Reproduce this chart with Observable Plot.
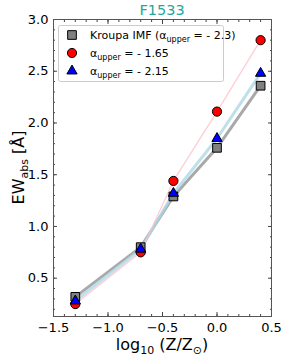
<!DOCTYPE html>
<html><head><meta charset="utf-8">
<script src="https://cdn.jsdelivr.net/npm/d3@7"></script>
<script src="https://cdn.jsdelivr.net/npm/@observablehq/plot@0.6"></script>
<style>body{margin:0;background:#fff}svg{font-family:"DejaVu Sans",sans-serif}</style>
</head><body><div id="chart"></div>
<script>
const logZ = [-1.3, -0.7, -0.4, 0.0, 0.4];
const kroupa = [0.32, 0.80, 1.29, 1.76, 2.36];
const a165 = [0.25, 0.75, 1.44, 2.11, 2.80];
const a215 = [0.28, 0.78, 1.32, 1.85, 2.48];
const xTicks = [-1.5, -1.0, -0.5, 0.0, 0.5];
const yTicks = [0.5, 1.0, 1.5, 2.0, 2.5, 3.0];

const series = [
  {name: "kroupa", vals: kroupa, fill: "#808080", line: "#a9a9a9", lw: 3, op: 1, symbol: "square", r: 4.9},
  {name: "a165", vals: a165, fill: "#ff0000", line: "#ffc0cb", lw: 1.3, op: 0.8, symbol: "circle", r: 4.6},
  {name: "a215", vals: a215, fill: "#0000ff", line: "#add8e6", lw: 3, op: 0.8, symbol: "triangle", r: 3.8}
];
const rows = s => logZ.map((x, i) => ({x, y: s.vals[i]}));
const xMinor = d3.range(-15, 6).map(d => d / 10);
const yMinor = d3.range(2, 31).map(d => d / 10);

const W = 287, H = 359;
const mL = 53, mR = 16, mT = 19, mB = 43;
const lineOrder = [series[0], series[2], series[1]];
const plot = Plot.plot({
  width: W, height: H,
  marginLeft: mL, marginRight: mR, marginTop: mT, marginBottom: mB,
  style: {fontFamily: "DejaVu Sans, sans-serif", fontSize: "13px", color: "#000", background: "#fff"},
  x: {domain: [-1.5, 0.5]},
  y: {domain: [0.13, 3.0]},
  marks: [
    ...lineOrder.map(s => Plot.line(rows(s), {x: "x", y: "y", stroke: s.line, strokeWidth: s.lw, strokeOpacity: s.op})),
    ...series.map(s => Plot.dot(rows(s), {x: "x", y: "y", symbol: () => s.symbol, fill: s.fill, stroke: "#000", strokeWidth: 1, r: s.r})),
    Plot.axisX(xTicks, {anchor: "bottom", tickSize: -4, tickPadding: 10, tickFormat: d => d.toFixed(1).replace("-", "\u2212"), label: null, stroke: "#444"}),
    Plot.axisX(xMinor, {anchor: "bottom", tickSize: -2, tickFormat: () => "", label: null, stroke: "#444"}),
    Plot.axisX(xTicks, {anchor: "top", tickSize: -4, tickFormat: () => "", label: null, stroke: "#444"}),
    Plot.axisX(xMinor, {anchor: "top", tickSize: -2, tickFormat: () => "", label: null, stroke: "#444"}),
    Plot.axisY(yTicks, {anchor: "left", tickSize: -4, tickPadding: 9, tickFormat: d => d.toFixed(1), label: null, stroke: "#444"}),
    Plot.axisY(yMinor, {anchor: "left", tickSize: -2, tickFormat: () => "", label: null, stroke: "#444"}),
    Plot.axisY(yTicks, {anchor: "right", tickSize: -4, tickFormat: () => "", label: null, stroke: "#444"}),
    Plot.axisY(yMinor, {anchor: "right", tickSize: -2, tickFormat: () => "", label: null, stroke: "#444"}),
    Plot.frame({stroke: "#555", strokeWidth: 1})
  ]
});
document.getElementById("chart").appendChild(plot);
const svg = d3.select(plot);
const cx = mL + (W - mL - mR) / 2;
// title
svg.append("text").attr("x", cx).attr("y", 15).attr("text-anchor", "middle")
  .attr("fill", "#26a69a").style("font-size", "14.5px").text("F1533");
// x label
const xl = svg.append("text").attr("x", cx).attr("y", 350).attr("text-anchor", "middle").style("font-size", "16px").attr("fill", "#000");
xl.append("tspan").text("log");
xl.append("tspan").attr("dy", 4).style("font-size", "11px").text("10");
xl.append("tspan").attr("dy", -4).text(" (Z/Z");
xl.append("tspan").attr("dy", 4).style("font-size", "11px").text("\u2299");
xl.append("tspan").attr("dy", -4).text(")");
// y label
const yl = svg.append("text").attr("transform", `translate(24,${mT + (H - mT - mB) / 2}) rotate(-90)`).attr("text-anchor", "middle").style("font-size", "16px").attr("fill", "#000");
yl.append("tspan").text("EW");
yl.append("tspan").attr("dy", 4).style("font-size", "11px").text("abs");
yl.append("tspan").attr("dy", -4).text(" [\u00c5]");
// legend
const lg = svg.append("g").attr("text-anchor", "start");
lg.append("rect").attr("x", 58.5).attr("y", 25.5).attr("width", 165).attr("height", 56).attr("rx", 2)
  .attr("fill", "#fff").attr("fill-opacity", 0.85).attr("stroke", "#ccc");
const labels = [
  ["Kroupa IMF (\u03b1", "upper", " = - 2.3)"],
  ["\u03b1", "upper", " = - 1.65"],
  ["\u03b1", "upper", " = - 2.15"]
];
const sym = {square: d3.symbolSquare, circle: d3.symbolCircle, triangle: d3.symbolTriangle};
series.forEach((s, i) => {
  const y = 35 + i * 18;
  lg.append("path").attr("transform", `translate(72,${y})`)
    .attr("d", d3.symbol(sym[s.symbol], Math.PI * s.r * s.r)())
    .attr("fill", s.fill).attr("stroke", "#000").attr("stroke-width", 1);
  const t = lg.append("text").attr("x", 90).attr("y", y + 4).attr("text-anchor", "start").style("font-size", "11px").attr("fill", "#000");
  t.append("tspan").text(labels[i][0]);
  t.append("tspan").attr("dy", 3).style("font-size", "8px").text(labels[i][1]);
  t.append("tspan").attr("dy", -3).text(labels[i][2]);
});
</script></body></html>
